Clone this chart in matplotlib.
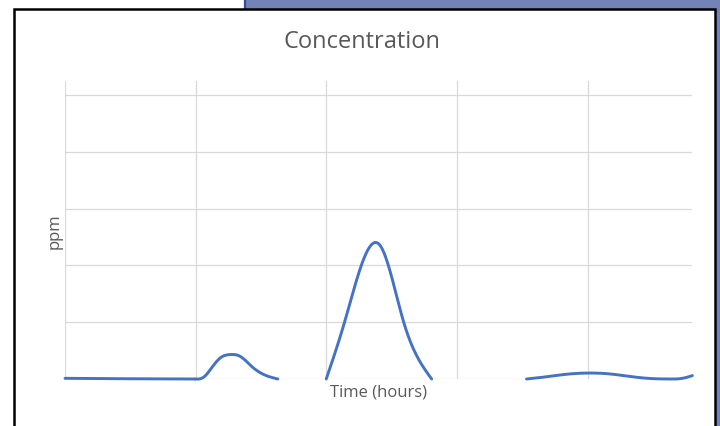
import numpy as np
import matplotlib
matplotlib.use("Agg")
import matplotlib.pyplot as plt
from matplotlib.patches import Rectangle
from matplotlib.lines import Line2D

# ── data (time in hours, concentration in ppm) ───────────────────────────────
flat_t = [0.0, 0.5, 0.994]
flat_v = [0.012, 0.004, 0.0]

hump1_t = [0.994, 1.06, 1.13, 1.20, 1.26, 1.34, 1.43, 1.53, 1.629]
hump1_v = [0.0, 0.03, 0.22, 0.39, 0.43, 0.40, 0.22, 0.07, 0.0]

peak_t = [2.0, 2.14, 2.41, 2.593, 2.807]
peak_v = [0.0, 1.0, 2.36, 1.0, 0.0]

wave_t = [3.533, 3.671, 3.824, 4.0, 4.168, 4.359, 4.512, 4.627, 4.727, 4.803]
wave_v = [0.0, 0.035, 0.08, 0.105, 0.09, 0.035, 0.005, 0.0, 0.012, 0.06]

x_grid = [0, 1, 2, 3, 4]
y_grid = [0, 1, 2, 3, 4, 5]

TITLE = "Concentration"
XLABEL = "Time (hours)"
YLABEL = "ppm"

LINE = "#4472C4"
GRID = "#D9D9D9"
TEXT = "#595959"
SLIDE = "#7382B8"

plt.rcParams["font.family"] = ["Open Sans", "DejaVu Sans"]


def spline(t, v, n=200):
    # natural cubic spline through the read points (smoothed line)
    t = np.asarray(t, float); v = np.asarray(v, float)
    k = len(t); h = np.diff(t)
    A = np.zeros((k, k)); b = np.zeros(k)
    A[0, 0] = A[-1, -1] = 1
    for i in range(1, k - 1):
        A[i, i - 1] = h[i - 1]; A[i, i] = 2 * (h[i - 1] + h[i]); A[i, i + 1] = h[i]
        b[i] = 6 * ((v[i + 1] - v[i]) / h[i] - (v[i] - v[i - 1]) / h[i - 1])
    M = np.linalg.solve(A, b)
    xs = np.linspace(t[0], t[-1], n)
    j = np.clip(np.searchsorted(t, xs) - 1, 0, k - 2)
    a = (t[j + 1] - xs) / h[j]; c = (xs - t[j]) / h[j]
    ys = (a * v[j] + c * v[j + 1]
          + ((a ** 3 - a) * M[j] + (c ** 3 - c) * M[j + 1]) * h[j] ** 2 / 6)
    return xs, ys


fig = plt.figure(figsize=(7.2, 4.27), dpi=100)
fig.patch.set_facecolor("white")

# ── slide background peeking out round the chart frame ──
W, H = 720, 427
fig.add_artist(Rectangle((245 / W, 1 - 9.5 / H), 475 / W, 9.5 / H,
                         transform=fig.transFigure, color=SLIDE, lw=0, zorder=0))
fig.add_artist(Rectangle((715 / W, 0), 5 / W, 1, transform=fig.transFigure,
                         color=SLIDE, lw=0, zorder=0))
fig.add_artist(Line2D([245 / W, 245 / W], [1 - 9.5 / H, 1], transform=fig.transFigure,
                      color="#2F4C9E", lw=1.6))
fig.add_artist(Line2D([13.5 / W, 13.5 / W, 714.5 / W, 714.5 / W],
                      [0, 1 - 10.2 / H, 1 - 10.2 / H, 0],
                      transform=fig.transFigure, color="black", lw=1.8,
                      solid_joinstyle="miter"))

ax = fig.add_axes([65 / W, 47 / H, 627 / W, 298 / H])
ax.set_xlim(0, 4.8)
ax.set_ylim(0, 5.25)
for x in x_grid:
    ax.axvline(x, color=GRID, lw=0.9, zorder=1)
for y in y_grid:
    ax.axhline(y, color=GRID, lw=0.9, zorder=1)

ax.plot(flat_t, flat_v, color=LINE, lw=2.1, solid_capstyle="round", zorder=3, clip_on=False)
for t, v in [(hump1_t, hump1_v), (peak_t, peak_v), (wave_t, wave_v)]:
    xs, ys = spline(t, v)
    ax.plot(xs, ys, color=LINE, lw=2.1, solid_capstyle="round", zorder=3, clip_on=False)

for s in ax.spines.values():
    s.set_visible(False)
ax.set_xticks([]); ax.set_yticks([])

fig.text(362 / W, 1 - 42 / H, TITLE, ha="center", va="center", fontsize=17, color=TEXT)
ax.set_xlabel(XLABEL, fontsize=12, color=TEXT, labelpad=3)
ax.set_ylabel(YLABEL, fontsize=12, color=TEXT, labelpad=2)

plt.savefig("out.png", dpi=100)
plt.close()
